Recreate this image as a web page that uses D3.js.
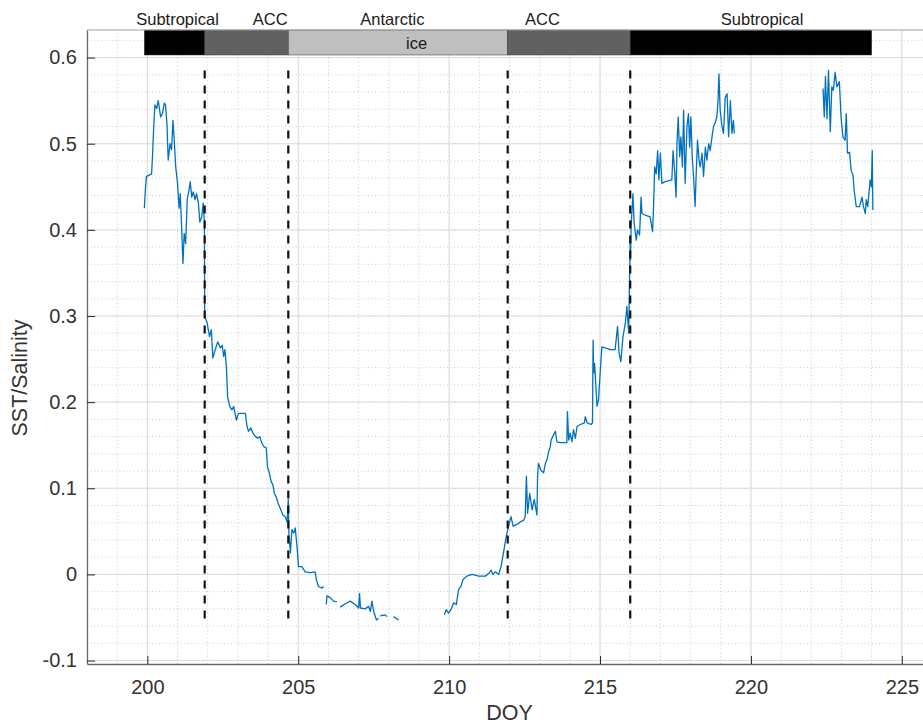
<!DOCTYPE html>
<html>
<head>
<meta charset="utf-8">
<script src="https://cdn.jsdelivr.net/npm/d3@7"></script>
<style>
body { margin: 0; background: #fff; overflow: hidden; }
</style>
</head>
<body>
<div id="chart"></div>
<script>
// -------------------- DATA --------------------

// DOY and SST/Salinity, null marks a gap in the record
const doy = [
  199.90,199.94,199.97,200.03,200.14,200.17,200.22,200.25,200.31,200.36,200.44,200.50,200.56,200.60,200.65,200.69,
  200.75,200.80,200.85,200.89,200.94,201.00,201.05,201.09,201.13,201.18,201.22,201.27,201.32,201.38,201.42,201.47,
  201.52,201.58,201.63,201.69,201.74,201.80,201.85,201.89,201.90,201.98,202.06,202.12,202.17,202.25,202.33,202.42,
  202.48,202.53,202.57,202.62,202.66,202.73,202.80,202.86,202.95,203.02,203.25,203.30,203.35,203.43,203.50,203.58,
  203.65,203.72,203.80,203.87,203.94,203.98,204.04,204.10,204.16,204.21,204.27,204.33,204.40,204.49,204.57,204.63,
  204.67,204.69,204.74,204.79,204.85,204.90,204.96,205.01,205.12,205.23,205.40,205.56,205.60,205.67,205.79,205.84,
  205.88,
  205.93,205.95,206.06,206.17,206.28,
  206.33,
  206.39,206.56,206.72,206.89,207.00,207.03,207.06,207.22,207.33,207.39,207.44,207.50,207.59,207.66,
  207.69,
  207.72,207.88,207.94,
  208.05,
  208.16,208.33,
  209.00,
  209.84,209.90,209.98,210.06,210.15,210.24,210.31,210.39,210.46,210.59,210.76,210.98,211.20,211.31,211.39,211.45,
  211.53,211.64,211.72,211.80,211.89,211.97,212.05,212.12,212.25,212.36,212.47,212.52,212.56,212.60,212.67,212.75,
  212.82,212.91,212.93,212.96,213.04,213.13,213.19,213.24,213.30,213.35,213.38,213.46,213.52,213.57,213.68,213.90,
  213.92,213.96,214.01,214.07,214.12,214.18,214.24,214.35,214.48,214.51,214.57,214.70,214.75,214.77,214.79,214.82,
  214.90,214.95,215.01,215.06,215.17,215.34,215.50,215.58,215.63,215.69,215.76,215.84,215.89,215.95,215.98,216.00,
  216.01,216.03,216.09,216.13,216.20,216.24,216.31,216.36,216.39,216.50,216.66,216.74,216.77,216.81,216.86,216.91,
  216.95,217.00,217.05,217.16,217.38,217.42,217.47,217.52,217.55,217.59,217.64,217.68,217.73,217.77,217.82,217.88,
  217.93,217.97,218.01,218.06,218.10,218.15,218.19,218.23,218.28,218.32,218.38,218.43,218.49,218.54,218.60,218.65,
  218.71,218.76,218.82,218.87,218.91,218.94,218.98,219.04,219.09,219.15,219.21,219.26,219.32,219.37,219.42,219.45,
  221.00,
  222.39,222.43,222.47,222.52,222.57,222.63,222.68,222.73,222.79,222.85,222.93,222.99,223.05,223.12,223.16,223.20,
  223.27,223.32,223.38,223.42,223.49,223.60,223.68,223.73,223.79,223.82,223.87,223.91,223.95,223.99,224.02,224.04
];
const sstSal = [
  0.425,0.450,0.462,0.463,0.465,0.485,0.527,0.545,0.541,0.550,0.531,0.535,0.547,0.545,0.523,0.481,
  0.500,0.493,0.527,0.504,0.473,0.454,0.425,0.442,0.408,0.361,0.396,0.384,0.435,0.446,0.456,0.438,
  0.444,0.435,0.442,0.431,0.409,0.415,0.431,0.408,0.300,0.292,0.276,0.284,0.251,0.261,0.270,0.263,
  0.266,0.253,0.261,0.241,0.206,0.195,0.191,0.195,0.179,0.187,0.187,0.172,0.166,0.170,0.164,0.160,
  0.158,0.160,0.152,0.148,0.147,0.125,0.118,0.108,0.104,0.094,0.090,0.083,0.077,0.069,0.067,0.061,
  0.087,0.048,0.025,0.052,0.048,0.054,0.032,0.009,0.009,0.003,0.002,0.003,-0.006,-0.014,-0.016,-0.014,
  null,
  -0.035,-0.025,-0.027,-0.031,-0.032,
  null,
  -0.038,-0.034,-0.031,-0.035,-0.039,-0.022,-0.039,-0.040,-0.037,-0.043,-0.031,-0.043,-0.053,-0.051,
  null,
  -0.048,-0.047,-0.049,
  null,
  -0.049,-0.053,
  null,
  -0.047,-0.041,-0.045,-0.041,-0.033,-0.035,-0.018,-0.014,-0.006,-0.002,0.000,-0.002,-0.002,0.001,0.005,0.000,
  0.003,0.000,0.009,0.025,0.044,0.056,0.067,0.056,0.058,0.061,0.063,0.067,0.114,0.071,0.094,0.075,
  0.087,0.069,0.114,0.129,0.121,0.118,0.129,0.133,0.143,0.148,0.156,0.162,0.166,0.154,0.153,0.153,
  0.189,0.156,0.164,0.154,0.168,0.158,0.172,0.174,0.176,0.183,0.176,0.174,0.176,0.272,0.234,0.245,
  0.195,0.203,0.237,0.264,0.263,0.261,0.261,0.288,0.257,0.247,0.276,0.292,0.311,0.280,0.350,0.388,
  0.365,0.404,0.442,0.408,0.388,0.400,0.394,0.438,0.419,0.417,0.415,0.398,0.423,0.473,0.465,0.492,
  0.458,0.489,0.454,0.456,0.458,0.492,0.469,0.438,0.500,0.531,0.485,0.508,0.473,0.539,0.454,0.520,
  0.535,0.496,0.531,0.481,0.462,0.427,0.469,0.504,0.481,0.473,0.489,0.462,0.496,0.481,0.500,0.492,
  0.508,0.520,0.525,0.531,0.550,0.581,0.539,0.520,0.512,0.554,0.558,0.508,0.550,0.512,0.527,0.512,
  null,
  0.564,0.531,0.578,0.529,0.585,0.514,0.566,0.562,0.583,0.566,0.572,0.529,0.508,0.504,0.535,0.489,
  0.490,0.469,0.464,0.446,0.427,0.427,0.438,0.427,0.419,0.435,0.427,0.442,0.458,0.450,0.492,0.423
];

// front positions (dashed lines)
const frontDoy = [201.9, 204.67, 211.94, 216.0];
const frontRange = [-0.055, 0.585];

// water mass bar along the top
const zoneStart = [199.9, 201.9, 204.67, 211.94, 216.0];
const zoneEnd = [201.9, 204.67, 211.94, 216.0, 224.0];
const zoneShade = ["#000000", "#616161", "#bfbfbf", "#616161", "#000000"];
const zoneNames = ["Subtropical", "ACC", "Antarctic", "ACC", "Subtropical"];
const zoneNameDoy = [201.0, 204.07, 208.12, 213.09, 220.37];
const zoneBar = [0.603, 0.632];
const iceLabel = "ice";
const iceDoy = 208.92;

const xTicks = [200, 205, 210, 215, 220, 225];
const yTicks = [-0.1, 0, 0.1, 0.2, 0.3, 0.4, 0.5, 0.6];
const xLimits = [198, 226];
const yLimits = [-0.104, 0.632];

// -------------------- VISUALIZATION --------------------

let width = 923, height = 727;
let margin = ({ top: 30, right: -9, bottom: 63, left: 87 });
let fontFamily = "'Liberation Sans', Arial, Helvetica, sans-serif";

const svg = d3.select("#chart")
  .append("svg")
  .attr("width", width)
  .attr("height", height)
  .attr("viewBox", [0, 0, width, height]);

let x = d3.scaleLinear().domain(xLimits).range([margin.left, width - margin.right]);
let y = d3.scaleLinear().domain(yLimits).range([height - margin.bottom, margin.top]);

// minor grid
let minorX = d3.range(xLimits[0], xLimits[1] + 1);
let minorY = d3.range(-5, 32).map(i => +(i * 0.02).toFixed(2));

svg.append("g")
  .attr("stroke", "#c4c4c4")
  .attr("stroke-width", 0.9)
  .attr("stroke-dasharray", "1,2.6")
  .call(g => g.selectAll("line.vx")
    .data(minorX)
    .join("line")
    .attr("class", "vx")
    .attr("x1", d => x(d)).attr("x2", d => x(d))
    .attr("y1", y(yLimits[0])).attr("y2", y(yLimits[1])))
  .call(g => g.selectAll("line.hy")
    .data(minorY)
    .join("line")
    .attr("class", "hy")
    .attr("x1", x(xLimits[0])).attr("x2", x(xLimits[1]))
    .attr("y1", d => y(d)).attr("y2", d => y(d)));

// major grid
svg.append("g")
  .attr("stroke", "#dcdcdc")
  .attr("stroke-width", 1)
  .call(g => g.selectAll("line.vx")
    .data(xTicks)
    .join("line")
    .attr("class", "vx")
    .attr("x1", d => x(d)).attr("x2", d => x(d))
    .attr("y1", y(yLimits[0])).attr("y2", y(yLimits[1])))
  .call(g => g.selectAll("line.hy")
    .data(yTicks)
    .join("line")
    .attr("class", "hy")
    .attr("x1", x(xLimits[0])).attr("x2", x(xLimits[1]))
    .attr("y1", d => y(d)).attr("y2", d => y(d)));

// zone bar
svg.append("g")
  .selectAll("rect")
  .data(zoneStart)
  .join("rect")
  .attr("x", (d, i) => x(d))
  .attr("y", y(zoneBar[1]))
  .attr("width", (d, i) => x(zoneEnd[i]) - x(d))
  .attr("height", y(zoneBar[0]) - y(zoneBar[1]))
  .attr("fill", (d, i) => zoneShade[i])
  .attr("stroke", "#333")
  .attr("stroke-width", 0.5);

svg.append("g")
  .attr("font-family", fontFamily)
  .attr("font-size", 16.5)
  .attr("fill", "#1a1a1a")
  .attr("text-anchor", "middle")
  .selectAll("text")
  .data(zoneNames)
  .join("text")
  .attr("x", (d, i) => x(zoneNameDoy[i]))
  .attr("y", y(zoneBar[1]) - 5.5)
  .text(d => d);

svg.append("text")
  .attr("font-family", fontFamily)
  .attr("font-size", 16.5)
  .attr("fill", "#1a1a1a")
  .attr("text-anchor", "middle")
  .attr("x", x(iceDoy))
  .attr("y", y(zoneBar[0]) - 6)
  .text(iceLabel);

// axes
let xAxis = g => g
  .attr("transform", `translate(0,${y(yLimits[0])})`)
  .call(d3.axisBottom(x).tickValues(xTicks).tickFormat(d => d).tickSizeInner(-8).tickSizeOuter(0).tickPadding(16))
  .call(g => g.select(".domain").attr("stroke", "#6a6a6a").attr("stroke-width", 1.3))
  .call(g => g.selectAll(".tick line").attr("stroke", "#262626"))
  .call(g => g.selectAll(".tick text").attr("fill", "#333"));

let yAxis = g => g
  .attr("transform", `translate(${x(xLimits[0])},0)`)
  .call(d3.axisLeft(y).tickValues(yTicks).tickFormat(d => String(+d.toFixed(1))).tickSizeInner(-8).tickSizeOuter(0).tickPadding(10))
  .call(g => g.select(".domain").attr("stroke", "#6a6a6a").attr("stroke-width", 1.3))
  .call(g => g.selectAll(".tick line").attr("stroke", "#262626"))
  .call(g => g.selectAll(".tick text").attr("fill", "#333"));

svg.append("g")
  .call(xAxis)
  .style("font-family", fontFamily)
  .style("font-size", "20px");

svg.append("g")
  .call(yAxis)
  .style("font-family", fontFamily)
  .style("font-size", "20px");

// top box edge
svg.append("line")
  .attr("x1", x(xLimits[0])).attr("x2", x(xLimits[1]))
  .attr("y1", y(yLimits[1])).attr("y2", y(yLimits[1]))
  .attr("stroke", "#a0a0a0")
  .attr("stroke-width", 1);

// data line
let points = doy.map((d, i) => ({ doy: d, value: sstSal[i] }));
let line = d3.line()
  .defined(d => d.value !== null)
  .x(d => x(d.doy))
  .y(d => y(d.value));

svg.append("path")
  .datum(points)
  .attr("fill", "none")
  .attr("stroke", "#0072BD")
  .attr("stroke-width", 1.3)
  .attr("stroke-linejoin", "round")
  .attr("d", line);

// fronts
svg.append("g")
  .selectAll("line")
  .data(frontDoy)
  .join("line")
  .attr("x1", d => x(d)).attr("x2", d => x(d))
  .attr("y1", y(frontRange[1])).attr("y2", y(frontRange[0]))
  .attr("stroke", "#111")
  .attr("stroke-width", 2.2)
  .attr("stroke-dasharray", "8,7");

// axis labels
svg.append("text")
  .attr("font-family", fontFamily)
  .attr("font-size", 21.5)
  .attr("fill", "#333")
  .attr("text-anchor", "middle")
  .attr("x", x(212))
  .attr("y", 720)
  .text("DOY");

svg.append("text")
  .attr("font-family", fontFamily)
  .attr("font-size", 21.5)
  .attr("fill", "#333")
  .attr("text-anchor", "middle")
  .attr("transform", "translate(27,378) rotate(-90)")
  .text("SST/Salinity");
</script>
</body>
</html>
